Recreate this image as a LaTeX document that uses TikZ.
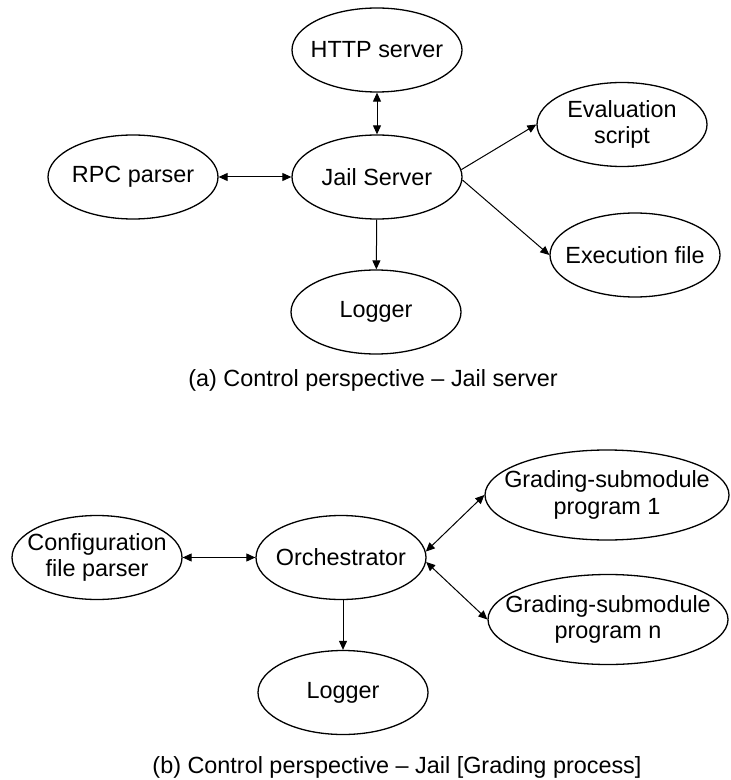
\documentclass[tikz,border=0pt]{standalone}
\usepackage{fontspec}
\setmainfont{Liberation Sans}
\usetikzlibrary{shapes.geometric,arrows.meta}
\begin{document}
\begin{tikzpicture}[x=0.5pt,y=-0.5pt,
  module/.style={ellipse, draw, line width=0.65pt, inner sep=0pt,
    minimum width=85pt, minimum height=42pt},
  wide/.style={minimum width=122pt, minimum height=45pt},
  txt/.style={font=\fontsize{11.7}{13.4}\selectfont, align=center, inner sep=0pt},
  link/.style={line width=0.5pt},
  tip/.tip={Triangle[length=4.5pt,width=4pt]},
  one/.style={link, -tip},
  both/.style={link, tip-tip}]
  \fill[white] (0,0) rectangle (731,780);
  \useasboundingbox (0,0) rectangle (731,780);

  % (a) jail server
  \node[module] (http) at (377,50) {};
  \node[module] (jail) at (377,177) {};
  \node[module] (rpc) at (133,177) {};
  \node[module] (eval) at (622,124.5) {};
  \node[module] (exe) at (635,255) {};
  \node[module] (logA) at (376,312) {};
  \node[txt] (http-t) at (http) {HTTP server};
  \node[txt] (jail-t) at (jail) {Jail Server};
  \node[txt] (rpc-t) at (rpc) {RPC parser};
  \node[txt] (eval-t) at (eval) {Evaluation\\script};
  \node[txt] (exe-t) at (exe) {Execution file};
  \node[txt] (logA-t) at (logA) {Logger};

  \draw[both] (http) -- (jail);
  \draw[both] (rpc) -- (jail);
  \draw[one] (jail.5) -- (eval.west);
  \draw[one] (jail.-2) -- (exe.west);
  \draw[one] (jail) -- (logA);

  \node[txt] (capA) at (373,380) {(a) Control perspective -- Jail server};

  % (b) jail grading process
  \node[module] (conf) at (97,557.5) {};
  \node[module] (orch) at (341,557.5) {};
  \node[module] (logB) at (343,692.5) {};
  \node[module, wide] (g1) at (607,495) {};
  \node[module, wide, minimum width=120pt] (gn) at (608,619.5) {};
  \node[txt] (conf-t) at (conf) {Configuration\\file parser};
  \node[txt] (orch-t) at (orch) {Orchestrator};
  \node[txt] (logB-t) at (logB) {Logger};
  \node[txt] (g1-t) at (g1) {Grading-submodule\\program 1};
  \node[txt] (gn-t) at (gn) {Grading-submodule\\program n};

  \draw[both] (conf) -- (orch);
  \draw[one] (orch.south -| logB) -- (logB);
  \draw[both] (orch.4) -- (g1.west);
  \draw[both] (orch.-3) -- (gn.west);

  \node[txt] (capB) at (397,767) {(b) Control perspective -- Jail [Grading process]};
\end{tikzpicture}
\end{document}
